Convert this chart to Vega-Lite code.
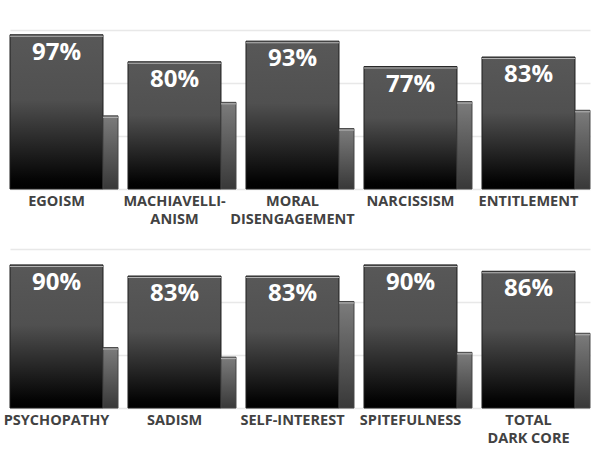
{
  "$schema": "https://vega.github.io/schema/vega-lite/v6.json",
  "description": "Dark core traits, two rows of five",
  "padding": {"left": 3, "top": 30, "right": 0, "bottom": 0},
  "bounds": "flush",
  "config": {
    "background": "white",
    "view": {"stroke": null},
    "font": "Open Sans"
  },
  "data": {
    "values": [
      {"row": "a", "trait": "EGOISM", "label": "EGOISM", "series": "score", "value": 0.97},
      {"row": "a", "trait": "EGOISM", "label": "EGOISM", "series": "norm", "value": 0.46},
      {"row": "a", "trait": "MACHIAVELLIANISM", "label": "MACHIAVELLI-\nANISM", "series": "score", "value": 0.80},
      {"row": "a", "trait": "MACHIAVELLIANISM", "label": "MACHIAVELLI-\nANISM", "series": "norm", "value": 0.545},
      {"row": "a", "trait": "MORAL DISENGAGEMENT", "label": "MORAL\nDISENGAGEMENT", "series": "score", "value": 0.93},
      {"row": "a", "trait": "MORAL DISENGAGEMENT", "label": "MORAL\nDISENGAGEMENT", "series": "norm", "value": 0.38},
      {"row": "a", "trait": "NARCISSISM", "label": "NARCISSISM", "series": "score", "value": 0.77},
      {"row": "a", "trait": "NARCISSISM", "label": "NARCISSISM", "series": "norm", "value": 0.55},
      {"row": "a", "trait": "ENTITLEMENT", "label": "ENTITLEMENT", "series": "score", "value": 0.83},
      {"row": "a", "trait": "ENTITLEMENT", "label": "ENTITLEMENT", "series": "norm", "value": 0.495},
      {"row": "b", "trait": "PSYCHOPATHY", "label": "PSYCHOPATHY", "series": "score", "value": 0.90},
      {"row": "b", "trait": "PSYCHOPATHY", "label": "PSYCHOPATHY", "series": "norm", "value": 0.38},
      {"row": "b", "trait": "SADISM", "label": "SADISM", "series": "score", "value": 0.83},
      {"row": "b", "trait": "SADISM", "label": "SADISM", "series": "norm", "value": 0.32},
      {"row": "b", "trait": "SELF-INTEREST", "label": "SELF-INTEREST", "series": "score", "value": 0.83},
      {"row": "b", "trait": "SELF-INTEREST", "label": "SELF-INTEREST", "series": "norm", "value": 0.67},
      {"row": "b", "trait": "SPITEFULNESS", "label": "SPITEFULNESS", "series": "score", "value": 0.90},
      {"row": "b", "trait": "SPITEFULNESS", "label": "SPITEFULNESS", "series": "norm", "value": 0.35},
      {"row": "b", "trait": "TOTAL DARK CORE", "label": "TOTAL\nDARK CORE", "series": "score", "value": 0.86},
      {"row": "b", "trait": "TOTAL DARK CORE", "label": "TOTAL\nDARK CORE", "series": "norm", "value": 0.47}
    ]
  },
  "facet": {
    "row": {"field": "row", "type": "nominal", "header": {"labels": false, "title": null}}
  },
  "spacing": 60,
  "resolve": {"scale": {"x": "independent"}},
  "spec": {
    "width": 580,
    "height": 159,
    "encoding": {
      "x": {
        "field": "trait",
        "type": "nominal",
        "sort": null,
        "axis": null,
        "scale": {"paddingInner": 0.0847, "paddingOuter": 0}
      },
      "xOffset": {
        "field": "series",
        "type": "nominal",
        "scale": {"type": "point", "domain": ["score", "norm"], "range": [46.5, 100.5], "padding": 0}
      },
      "y": {
        "field": "value",
        "type": "quantitative",
        "scale": {"domain": [0, 1], "nice": false},
        "axis": {
          "title": null,
          "labels": false,
          "ticks": false,
          "domain": false,
          "minExtent": 0,
          "maxExtent": 0,
          "grid": true,
          "gridColor": "#e8e8e8",
          "gridWidth": 1.5,
          "values": [0, 0.3333, 0.6667, 1]
        }
      },
      "size": {
        "field": "series",
        "type": "nominal",
        "scale": {"type": "ordinal", "domain": ["score", "norm"], "range": [93, 15]},
        "legend": null
      }
    },
    "layer": [
      {
        "transform": [{"filter": "datum.series === 'score'"}],
        "mark": {
          "type": "bar",
          "stroke": "#1f1f1f",
          "strokeWidth": 1,
          "fill": {
            "gradient": "linear",
            "x1": 0, "y1": 0, "x2": 0, "y2": 1,
            "stops": [
              {"offset": 0, "color": "#585858"},
              {"offset": 0.42, "color": "#505050"},
              {"offset": 0.95, "color": "#030303"},
              {"offset": 1, "color": "#000000"}
            ]
          }
        }
      },
      {
        "transform": [{"filter": "datum.series === 'norm'"}],
        "mark": {
          "type": "bar",
          "stroke": "#444444",
          "strokeWidth": 1,
          "fill": {
            "gradient": "linear",
            "x1": 0, "y1": 0, "x2": 0, "y2": 1,
            "stops": [
              {"offset": 0, "color": "#7c7c7c"},
              {"offset": 1, "color": "#383838"}
            ]
          }
        }
      },
      {
        "mark": {"type": "tick", "orient": "horizontal", "color": "#b4b4b4", "thickness": 1, "yOffset": 1.5, "opacity": 1}
      },
      {
        "transform": [{"filter": "datum.series === 'score'"}],
        "mark": {
          "type": "text",
          "align": "center",
          "baseline": "alphabetic",
          "dy": 25,
          "fontSize": 24,
          "fontWeight": "bold",
          "color": "white"
        },
        "encoding": {
          "text": {"field": "value", "type": "quantitative", "format": ".0%"},
          "size": {"value": 24}
        }
      },
      {
        "transform": [{"filter": "datum.series === 'score'"}],
        "mark": {
          "type": "text",
          "align": "center",
          "baseline": "alphabetic",
          "dy": 17,
          "lineBreak": "\n",
          "lineHeight": 17.5,
          "fontSize": 14.5,
          "fontWeight": "bold",
          "color": "#424242"
        },
        "encoding": {
          "y": {"datum": 0},
          "text": {"field": "label"},
          "size": {"value": 14.5}
        }
      }
    ]
  }
}
